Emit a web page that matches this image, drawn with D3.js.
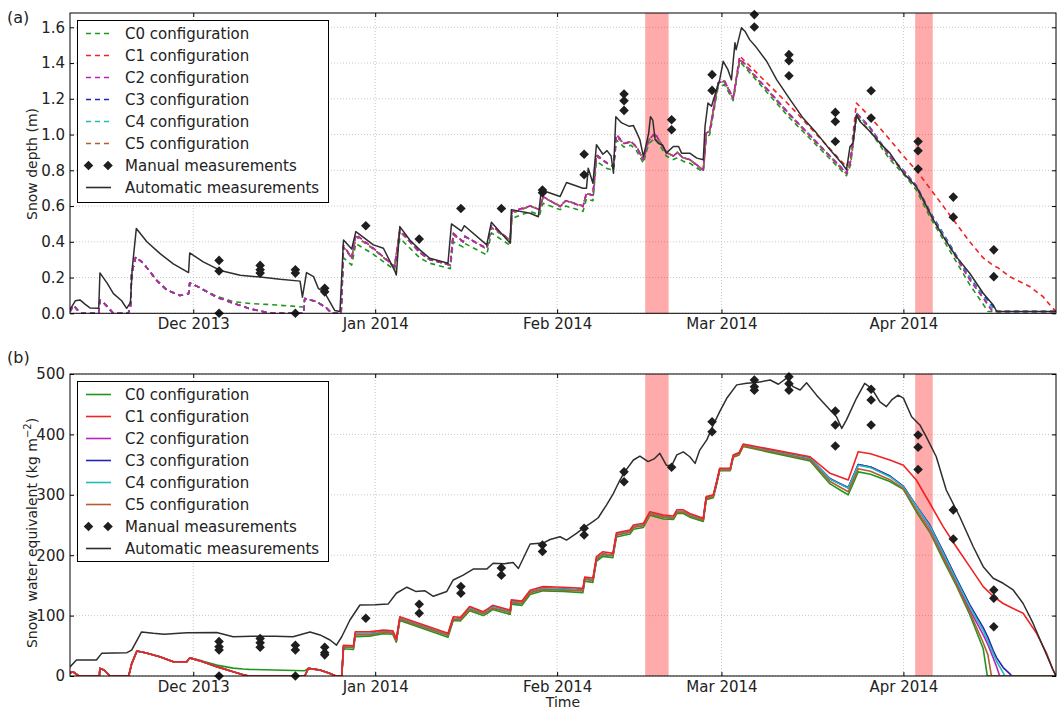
<!DOCTYPE html>
<html><head><meta charset="utf-8">
<script src="https://cdn.jsdelivr.net/npm/d3@7"></script>
<style>body{margin:0;background:#fff}svg{font-family:"DejaVu Sans",sans-serif;background:#fff}</style>
</head><body><svg id="c" width="1057" height="713"></svg>
<script>
// ---------- data ----------
// time is given as days since 2013-11-10
const startDate = new Date(2013, 10, 10);
const lastDay = 168;
const monthTicks = ["2013-12-01", "2014-01-01", "2014-02-01", "2014-03-01", "2014-04-01"];
const depthTicks = [0, 0.2, 0.4, 0.6, 0.8, 1.0, 1.2, 1.4, 1.6];
const sweTicks = [0, 100, 200, 300, 400, 500];
const configNames = ["C0 configuration", "C1 configuration", "C2 configuration", "C3 configuration", "C4 configuration", "C5 configuration"];
const configColors = ["#1f961f", "#f02222", "#bb22bb", "#2424b4", "#22bcbc", "#b0602e"];
const shadedPeriods = [[98, 102], [144, 147]];

const autoDepth = [[0,0.02],[0.9,0.07],[1.7,0.075],[2.6,0.05],[3.4,0.03],[4.9,0.028],[5.1,0.226],[6.3,0.17],[7.4,0.11],[8.8,0.07],[9.65,0.028],[10.3,0.06],[10.6,0.25],[11.3,0.474],[13.1,0.4],[15.3,0.335],[17.6,0.277],[20.2,0.228],[20.4,0.338],[22.7,0.288],[25.6,0.24],[29,0.213],[32.4,0.203],[35.8,0.19],[39.2,0.18],[39.6,0.09],[40.3,0.228],[41.5,0.205],[42.3,0.14],[43.4,0.115],[44.3,0.062],[45.1,0.016],[46,0.01],[46.6,0.41],[48,0.36],[48.7,0.457],[51.7,0.383],[53.4,0.364],[55.4,0.233],[55.6,0.215],[56.2,0.485],[57.9,0.41],[59.6,0.355],[61.3,0.308],[64.4,0.28],[65,0.5],[66.7,0.46],[67.2,0.49],[71,0.383],[71.8,0.51],[75,0.392],[75.2,0.58],[78.4,0.56],[79.8,0.54],[80.3,0.69],[83.5,0.653],[84.6,0.732],[87.4,0.7],[88,0.7],[88.3,0.812],[89.1,0.728],[89.7,0.943],[90.8,0.89],[91.5,0.91],[92.2,0.88],[92.6,0.784],[93,1.1],[94,1.065],[95.3,1.046],[96,1.05],[96.6,1.008],[97.1,0.971],[97.7,0.877],[98.1,0.933],[98.6,1.008],[98.9,1.1],[99.3,1.08],[99.7,0.971],[100.3,0.95],[101,0.94],[101.6,0.896],[102.8,0.933],[103.7,0.933],[104.2,0.896],[105.6,0.896],[106.8,0.868],[107.9,0.859],[108.2,1.045],[108.7,1.176],[109.3,1.158],[110.7,1.307],[111.3,1.41],[112.1,1.363],[112.7,1.307],[113.3,1.513],[113.5,1.475],[114.4,1.597],[115,1.578],[115.8,1.531],[117,1.485],[118.7,1.41],[120.4,1.307],[122.7,1.195],[124.9,1.092],[127.2,1.008],[129.5,0.915],[131.5,0.84],[132.3,0.803],[132.9,0.933],[133.4,0.95],[134,1.111],[134.6,1.073],[136.3,1.017],[138,0.952],[139.7,0.896],[142,0.784],[144.2,0.709],[145.4,0.635],[147.1,0.523],[148.8,0.429],[151,0.317],[153.3,0.224],[155.6,0.112],[157.3,0.047],[157.9,0.01],[168,0.01]];

const manualDepth = [[25.4,0.296],[25.4,0.237],[25.4,0],[32.4,0.268],[32.4,0.244],[32.4,0.225],[38.4,0.244],[38.4,0.225],[38.4,0],[43.4,0.14],[43.4,0.12],[50.4,0.49],[59.5,0.415],[66.6,0.586],[73.5,0.586],[80.5,0.69],[80.5,0.675],[87.6,0.89],[87.6,0.775],[94.4,1.227],[94.4,1.189],[94.4,1.135],[102.5,1.083],[102.5,1.027],[109.4,1.335],[109.4,1.247],[116.6,1.671],[116.6,1.602],[122.5,1.447],[122.5,1.413],[122.5,1.329],[130.4,1.124],[130.4,1.073],[130.4,0.961],[136.5,1.245],[136.5,1.092],[144.5,0.961],[144.5,0.909],[144.5,0.807],[150.5,0.65],[150.5,0.538],[157.4,0.355],[157.4,0.205]];

const depthC0 = [[0,0.01],[0.6,0.045],[1.5,0.01],[2,0],[4.9,0],[5.1,0.074],[5.7,0.06],[7.4,0],[9.9,0],[10.3,0.03],[10.5,0.22],[11.2,0.315],[12.5,0.28],[14.8,0.183],[16.5,0.13],[18.7,0.1],[20.2,0.11],[20.4,0.17],[22,0.145],[25,0.095],[27.8,0.065],[30.7,0.055],[33.5,0.05],[35.8,0.045],[39.8,0.035],[40,0.083],[42,0.065],[43.7,0.03],[44.6,0],[46.2,0],[46.6,0.31],[48,0.27],[48.7,0.39],[51.7,0.33],[55.3,0.243],[56.2,0.42],[59.6,0.31],[61.3,0.28],[64.8,0.25],[65.3,0.4],[67,0.37],[67.3,0.39],[71,0.327],[71.8,0.45],[75,0.38],[75.3,0.53],[78.4,0.57],[80,0.55],[80.6,0.616],[83.5,0.58],[84.5,0.6],[87.4,0.57],[88,0.64],[89.1,0.63],[89.7,0.85],[91.5,0.81],[92.6,0.8],[93.1,0.97],[94.4,0.93],[95.6,0.94],[96.5,0.91],[97.7,0.84],[98.6,0.95],[99.7,0.98],[100.5,0.94],[101.6,0.88],[102.8,0.86],[103.5,0.87],[104.5,0.85],[105.6,0.84],[107.9,0.79],[108.4,0.98],[109,1.0],[110.4,1.26],[111.5,1.28],[113,1.19],[114.1,1.41],[122.7,1.09],[132.3,0.77],[133,0.83],[134,1.1],[136.3,1.02],[139.7,0.86],[142,0.78],[144.2,0.69],[146.5,0.54],[149.9,0.35],[153.3,0.16],[155.6,0.05],[156.4,0.01],[168,0.01]];
const depthC1 = [[0,0.01],[0.6,0.045],[1.5,0.01],[2,0],[4.9,0],[5.1,0.074],[5.7,0.06],[7.4,0],[9.9,0],[10.3,0.03],[10.5,0.22],[11.2,0.315],[12.5,0.28],[14.8,0.183],[16.5,0.13],[18.7,0.1],[20.2,0.11],[20.4,0.17],[22,0.145],[25,0.09],[27.8,0.057],[30.7,0.025],[33.5,0.005],[35,0],[39.8,0],[40,0.083],[42,0.065],[43.7,0.03],[44.6,0],[46.2,0],[46.6,0.38],[48,0.31],[48.7,0.44],[51.7,0.364],[55.3,0.261],[56.2,0.467],[59.6,0.34],[61.3,0.3],[64.8,0.27],[65.3,0.448],[67,0.4],[67.3,0.43],[71,0.364],[71.8,0.49],[75,0.41],[75.3,0.57],[78.4,0.6],[80,0.58],[80.6,0.653],[83.5,0.597],[84.5,0.63],[87.4,0.597],[88,0.672],[89.1,0.66],[89.7,0.887],[91.5,0.84],[92.6,0.821],[93.1,1.0],[94.4,0.95],[95.6,0.96],[96.5,0.933],[97.7,0.859],[98.6,0.97],[99.7,1.008],[100.5,0.96],[101.6,0.9],[102.8,0.88],[103.5,0.9],[104.5,0.868],[105.6,0.86],[107.9,0.803],[108.4,1.008],[109,1.02],[110.4,1.289],[111.5,1.3],[113,1.204],[114.1,1.44],[122.7,1.16],[132.3,0.82],[133,0.88],[134,1.176],[136.3,1.1],[139.7,0.971],[142,0.88],[144.2,0.8],[146.5,0.7],[149.9,0.55],[153.3,0.4],[155.6,0.31],[157.2,0.27],[158.1,0.255],[160.1,0.205],[163.5,0.15],[165.8,0.093],[167.2,0.037],[168,0.01]];
const depthC2 = [[0,0.01],[0.6,0.045],[1.5,0.01],[2,0],[4.9,0],[5.1,0.074],[5.7,0.06],[7.4,0],[9.9,0],[10.3,0.03],[10.5,0.22],[11.2,0.315],[12.5,0.28],[14.8,0.183],[16.5,0.13],[18.7,0.1],[20.2,0.11],[20.4,0.17],[22,0.145],[25,0.09],[27.8,0.057],[30.7,0.025],[33.5,0.005],[35,0],[39.8,0],[40,0.083],[42,0.065],[43.7,0.03],[44.6,0],[46.2,0],[46.6,0.38],[48,0.31],[48.7,0.44],[51.7,0.364],[55.3,0.261],[56.2,0.467],[59.6,0.34],[61.3,0.3],[64.8,0.27],[65.3,0.448],[67,0.4],[67.3,0.43],[71,0.364],[71.8,0.49],[75,0.41],[75.3,0.57],[78.4,0.6],[80,0.58],[80.6,0.653],[83.5,0.597],[84.5,0.63],[87.4,0.597],[88,0.672],[89.1,0.66],[89.7,0.887],[91.5,0.84],[92.6,0.821],[93.1,1.0],[94.4,0.95],[95.6,0.96],[96.5,0.933],[97.7,0.859],[98.6,0.97],[99.7,1.008],[100.5,0.96],[101.6,0.9],[102.8,0.88],[103.5,0.9],[104.5,0.868],[105.6,0.86],[107.9,0.803],[108.4,1.008],[109,1.02],[110.4,1.289],[111.5,1.3],[113,1.204],[114.1,1.429],[122.7,1.11],[132.3,0.784],[133,0.85],[134,1.12],[136.3,1.04],[139.7,0.877],[142,0.8],[144.2,0.709],[146.5,0.56],[149.9,0.373],[153.3,0.187],[155.6,0.084],[156.4,0.05],[157.2,0.01],[168,0.01]];
const depthC3 = [[0,0.01],[0.6,0.045],[1.5,0.01],[2,0],[4.9,0],[5.1,0.074],[5.7,0.06],[7.4,0],[9.9,0],[10.3,0.03],[10.5,0.22],[11.2,0.315],[12.5,0.28],[14.8,0.183],[16.5,0.13],[18.7,0.1],[20.2,0.11],[20.4,0.17],[22,0.145],[25,0.09],[27.8,0.057],[30.7,0.025],[33.5,0.005],[35,0],[39.8,0],[40,0.083],[42,0.065],[43.7,0.03],[44.6,0],[46.2,0],[46.6,0.37],[48,0.31],[48.7,0.43],[51.7,0.36],[55.3,0.26],[56.2,0.46],[59.6,0.34],[61.3,0.3],[64.8,0.27],[65.3,0.44],[67,0.4],[67.3,0.43],[71,0.36],[71.8,0.48],[75,0.41],[75.3,0.56],[78.4,0.6],[80,0.58],[80.6,0.65],[83.5,0.6],[84.5,0.63],[87.4,0.6],[88,0.67],[89.1,0.66],[89.7,0.88],[91.5,0.84],[92.6,0.82],[93.1,0.99],[94.4,0.95],[95.6,0.96],[96.5,0.93],[97.7,0.86],[98.6,0.97],[99.7,1.0],[100.5,0.96],[101.6,0.9],[102.8,0.88],[103.5,0.9],[104.5,0.87],[105.6,0.86],[107.9,0.8],[108.4,1.0],[109,1.02],[110.4,1.28],[111.5,1.3],[113,1.2],[114.1,1.42],[122.7,1.11],[132.3,0.785],[133,0.85],[134,1.12],[136.3,1.04],[139.7,0.88],[142,0.8],[144.2,0.715],[146.5,0.57],[149.9,0.385],[153.3,0.2],[155.6,0.1],[156.4,0.075],[157.2,0.04],[158.1,0.01],[168,0.01]];
const depthC4 = [[0,0.01],[0.6,0.045],[1.5,0.01],[2,0],[4.9,0],[5.1,0.074],[5.7,0.06],[7.4,0],[9.9,0],[10.3,0.03],[10.5,0.22],[11.2,0.315],[12.5,0.28],[14.8,0.183],[16.5,0.13],[18.7,0.1],[20.2,0.11],[20.4,0.17],[22,0.145],[25,0.09],[27.8,0.057],[30.7,0.025],[33.5,0.005],[35,0],[39.8,0],[40,0.083],[42,0.065],[43.7,0.03],[44.6,0],[46.2,0],[46.6,0.37],[48,0.31],[48.7,0.43],[51.7,0.36],[55.3,0.26],[56.2,0.46],[59.6,0.34],[61.3,0.3],[64.8,0.27],[65.3,0.44],[67,0.4],[67.3,0.43],[71,0.36],[71.8,0.48],[75,0.41],[75.3,0.56],[78.4,0.6],[80,0.58],[80.6,0.65],[83.5,0.6],[84.5,0.63],[87.4,0.6],[88,0.67],[89.1,0.66],[89.7,0.88],[91.5,0.84],[92.6,0.82],[93.1,0.99],[94.4,0.95],[95.6,0.96],[96.5,0.93],[97.7,0.86],[98.6,0.97],[99.7,1.0],[100.5,0.96],[101.6,0.9],[102.8,0.88],[103.5,0.9],[104.5,0.87],[105.6,0.86],[107.9,0.8],[108.4,1.0],[109,1.02],[110.4,1.28],[111.5,1.3],[113,1.2],[114.1,1.42],[122.7,1.11],[132.3,0.785],[133,0.85],[134,1.12],[136.3,1.04],[139.7,0.88],[142,0.8],[144.2,0.712],[146.5,0.565],[149.9,0.38],[153.3,0.195],[155.6,0.095],[156.4,0.06],[157.2,0.03],[158.1,0.01],[168,0.01]];
const depthC5 = [[0,0.01],[0.6,0.045],[1.5,0.01],[2,0],[4.9,0],[5.1,0.074],[5.7,0.06],[7.4,0],[9.9,0],[10.3,0.03],[10.5,0.22],[11.2,0.315],[12.5,0.28],[14.8,0.183],[16.5,0.13],[18.7,0.1],[20.2,0.11],[20.4,0.17],[22,0.145],[25,0.09],[27.8,0.057],[30.7,0.025],[33.5,0.005],[35,0],[39.8,0],[40,0.083],[42,0.065],[43.7,0.03],[44.6,0],[46.2,0],[46.6,0.37],[48,0.31],[48.7,0.43],[51.7,0.36],[55.3,0.26],[56.2,0.46],[59.6,0.34],[61.3,0.3],[64.8,0.27],[65.3,0.44],[67,0.4],[67.3,0.43],[71,0.36],[71.8,0.48],[75,0.41],[75.3,0.56],[78.4,0.6],[80,0.58],[80.6,0.65],[83.5,0.6],[84.5,0.63],[87.4,0.6],[88,0.67],[89.1,0.66],[89.7,0.88],[91.5,0.84],[92.6,0.82],[93.1,0.99],[94.4,0.95],[95.6,0.96],[96.5,0.93],[97.7,0.86],[98.6,0.97],[99.7,1.0],[100.5,0.96],[101.6,0.9],[102.8,0.88],[103.5,0.9],[104.5,0.87],[105.6,0.86],[107.9,0.8],[108.4,1.0],[109,1.02],[110.4,1.28],[111.5,1.3],[113,1.2],[114.1,1.42],[122.7,1.105],[132.3,0.78],[133,0.845],[134,1.11],[136.3,1.035],[139.7,0.87],[142,0.795],[144.2,0.705],[146.5,0.555],[149.9,0.37],[153.3,0.19],[155.6,0.085],[156.4,0.045],[157.2,0.01],[168,0.01]];

const autoSwe = [[0,15],[1.1,26.5],[4.5,26.5],[5.4,37.5],[9.7,38.6],[10.5,43],[12.2,73],[14.2,70.6],[16,69],[19.9,71.8],[25,72],[27.8,65],[31,66],[35,66],[38,65],[40.9,73],[42.6,68],[44.3,59.6],[45.4,51],[46.3,65],[47.7,92.7],[49.4,117.5],[52,118],[54.2,119],[55.6,137],[57.4,147],[58.9,140],[60.5,141],[61.9,132],[64.2,140],[65.3,159],[67,167],[68.7,177],[71,177],[72.1,186.6],[74,186],[75.5,188],[76.4,178],[78.4,218.5],[80.6,220],[81.8,226],[83.5,230.6],[84.6,225],[86.3,236],[87.4,244.5],[89.1,255.5],[90,262],[91.4,283],[92.6,302.5],[93.7,324.5],[94.5,338],[96,357.6],[97.1,364],[98.5,355],[99.6,360],[100.5,368.7],[101.6,349],[102.5,348],[103.4,366],[104.5,371],[105.6,363],[106.5,352],[107.3,374],[108.5,391],[109.6,415.6],[110.7,437.6],[111.9,459.8],[113.6,482],[115.3,484.6],[117,486],[119.3,490],[120.7,483],[122.1,493],[123.2,479],[124.4,473.5],[125.5,485.6],[127.2,465],[129.5,440.4],[130.6,429.3],[131.5,410],[132.3,424],[134,459.8],[135.4,484.6],[136.6,476],[138,454],[139.1,446],[140,457],[141.1,465],[142,460],[143.4,429.3],[144.8,415.6],[145.9,396],[147.6,363],[149.3,308],[151.6,263.7],[153.9,214],[155.6,181],[157.3,161.8],[159,153.5],[160.7,142.4],[162.4,120],[164.1,87],[165.8,48.5],[167.5,10],[168,0]];

const manualSwe = [[25.4,57],[25.4,48.5],[25.4,43],[25.4,0],[32.4,62],[32.4,55],[32.4,47.5],[38.4,51],[38.4,43],[38.4,0],[43.4,47.5],[43.4,38.6],[43.4,35],[50.4,95.5],[59.5,118.7],[59.5,103.8],[66.6,148],[66.6,137],[73.5,179],[73.5,167],[80.5,217],[80.5,206],[87.6,244.5],[87.6,233.4],[94.4,338],[94.4,321.7],[102.5,345.5],[109.4,421],[109.4,404.5],[116.6,490],[116.6,479],[116.6,473],[122.5,495.5],[122.5,484],[122.5,473],[130.4,438.7],[130.4,415.6],[130.4,380.8],[136.5,474.7],[136.5,457],[136.5,415.6],[144.5,399],[144.5,378.6],[144.5,342],[150.5,275],[150.5,226.8],[157.4,142.4],[157.4,128.6],[157.4,81.6]];

const sweC0 = [[0,5],[0.5,7],[1.5,0],[5,0],[5.1,12.6],[5.8,10],[6.8,0],[10,0],[10.5,20],[11.4,41.4],[13,38],[15.3,32],[17.6,23.7],[19.9,23.7],[20.4,30],[22.5,25],[25,18],[27.8,13],[29.5,11.5],[30.5,11],[40,8.8],[40.6,12.6],[42.6,10],[44.3,4],[45.3,0],[46.3,0],[46.6,45],[48.3,44],[48.6,65],[51,66],[53.4,70],[55,69],[55.6,56],[56.2,92],[64.4,64],[65.3,92],[66.5,91],[68.1,108],[70.4,100],[71,103],[72,110],[75,102],[75.2,119],[77,117],[78.4,135],[80.6,141],[84,140],[87.4,138],[87.7,157],[89.1,155],[89.7,190],[90.8,198],[92.5,196],[93.1,230],[95.4,235],[96,243],[97.7,246],[98.8,266],[101.1,260],[102.8,259],[103.4,269],[104.5,269],[105.6,263],[107.9,256],[108.4,292],[109.6,295],[110.1,314],[110.7,340],[112.5,340],[113,362],[114,366],[114.7,380],[126.1,356],[129.5,318],[131.7,305],[132.6,300],[134.3,338],[136.4,334],[139.7,322],[142,309],[144.2,272],[146.5,238],[148.8,192],[151,150],[153.3,102],[155.6,45],[156.3,0],[168,0]];
const sweC1 = [[0,5],[0.5,7],[1.5,0],[5,0],[5.1,12.6],[5.8,10],[6.8,0],[10,0],[10.5,20],[11.4,41.4],[13,38],[15.3,32],[17.6,23.7],[19.9,23.7],[20.4,30],[22.5,24],[25,15.5],[27.8,7],[29.5,2],[30.5,0],[40,0],[40.6,12.6],[42.6,10],[44.3,4],[45.3,0],[46.3,0],[46.6,51],[48.3,50],[48.6,73],[51,73],[53.4,76],[55,75],[55.6,62],[56.2,98],[64.4,70.6],[65.3,98],[66.5,97],[68.1,115],[70.4,106.5],[71,110],[72,117],[75,109],[75.2,126],[77,124],[78.4,142],[80.6,148],[84,147],[87.4,145],[87.7,164],[89.1,162],[89.7,197.5],[90.8,205.8],[92.5,203],[93.1,237],[95.4,241.7],[96,250],[97.7,252.8],[98.8,272],[101.1,266.6],[102.8,265],[103.4,275],[104.5,275],[105.6,269],[107.9,261],[108.4,297],[109.6,300],[110.1,319],[110.7,344],[112.5,344],[113,366],[114,370],[114.7,384],[126.1,363],[129.5,335.6],[132.6,324.5],[134.3,371.4],[136.4,368],[139.7,357.6],[142,349],[144.2,324.5],[146.5,286],[148.8,247],[151,214],[153.3,181],[155.6,148],[157.3,132],[159,120],[160.1,114.7],[162.4,103.8],[164.7,70.6],[166.4,37.6],[167.5,10],[168,0]];
const sweC2 = [[0,5],[0.5,7],[1.5,0],[5,0],[5.1,12.6],[5.8,10],[6.8,0],[10,0],[10.5,20],[11.4,41.4],[13,38],[15.3,32],[17.6,23.7],[19.9,23.7],[20.4,30],[22.5,24],[25,15.5],[27.8,7],[29.5,2],[30.5,0],[40,0],[40.6,12.6],[42.6,10],[44.3,4],[45.3,0],[46.3,0],[46.6,49],[48.3,48],[48.6,70],[51,70],[53.4,73],[55,72],[55.6,59],[56.2,95],[64.4,68],[65.3,95],[66.5,94],[68.1,112],[70.4,104],[71,107],[72,114],[75,106],[75.2,123],[77,121],[78.4,139],[80.6,145],[84,144],[87.4,142],[87.7,161],[89.1,159],[89.7,194],[90.8,202],[92.5,200],[93.1,234],[95.4,239],[96,247],[97.7,250],[98.8,269],[101.1,264],[102.8,262],[103.4,272],[104.5,272],[105.6,266],[107.9,259],[108.4,295],[109.6,298],[110.1,317],[110.7,342],[112.5,342],[113,364],[114,368],[114.7,382],[126.1,361],[129.5,327],[132.6,311],[134.3,350],[136.4,346],[139.7,331],[142,314],[144.2,281],[146.5,246],[148.8,200],[151,156],[153.3,110],[155.6,68],[156.4,52],[157.3,30],[157.9,15],[158.4,0],[168,0]];
const sweC3 = [[0,5],[0.5,7],[1.5,0],[5,0],[5.1,12.6],[5.8,10],[6.8,0],[10,0],[10.5,20],[11.4,41.4],[13,38],[15.3,32],[17.6,23.7],[19.9,23.7],[20.4,30],[22.5,24],[25,15.5],[27.8,7],[29.5,2],[30.5,0],[40,0],[40.6,12.6],[42.6,10],[44.3,4],[45.3,0],[46.3,0],[46.6,49],[48.3,48],[48.6,70],[51,70],[53.4,73],[55,72],[55.6,59],[56.2,95],[64.4,68],[65.3,95],[66.5,94],[68.1,112],[70.4,104],[71,107],[72,114],[75,106],[75.2,123],[77,121],[78.4,139],[80.6,145],[84,144],[87.4,142],[87.7,161],[89.1,159],[89.7,194],[90.8,202],[92.5,200],[93.1,234],[95.4,239],[96,247],[97.7,250],[98.8,269],[101.1,264],[102.8,262],[103.4,272],[104.5,272],[105.6,266],[107.9,259],[108.4,295],[109.6,298],[110.1,317],[110.7,342],[112.5,342],[113,364],[114,368],[114.7,382],[126.1,360],[129.5,326],[132.6,312],[134.3,350],[136.4,346],[139.7,331],[142,314],[144.2,282],[146.5,250],[148.8,206],[151,162],[153.3,118],[155.6,80],[156.4,64],[157.3,42],[157.9,30],[159,14],[160.1,4],[160.5,0],[168,0]];
const sweC4 = [[0,5],[0.5,7],[1.5,0],[5,0],[5.1,12.6],[5.8,10],[6.8,0],[10,0],[10.5,20],[11.4,41.4],[13,38],[15.3,32],[17.6,23.7],[19.9,23.7],[20.4,30],[22.5,24],[25,15.5],[27.8,7],[29.5,2],[30.5,0],[40,0],[40.6,12.6],[42.6,10],[44.3,4],[45.3,0],[46.3,0],[46.6,49],[48.3,48],[48.6,70],[51,70],[53.4,73],[55,72],[55.6,59],[56.2,95],[64.4,68],[65.3,95],[66.5,94],[68.1,112],[70.4,104],[71,107],[72,114],[75,106],[75.2,123],[77,121],[78.4,139],[80.6,145],[84,144],[87.4,142],[87.7,161],[89.1,159],[89.7,194],[90.8,202],[92.5,200],[93.1,234],[95.4,239],[96,247],[97.7,250],[98.8,269],[101.1,264],[102.8,262],[103.4,272],[104.5,272],[105.6,266],[107.9,259],[108.4,295],[109.6,298],[110.1,317],[110.7,342],[112.5,342],[113,364],[114,368],[114.7,382],[126.1,360],[129.5,326],[132.6,311],[134.3,349],[136.4,345],[139.7,330],[142,313],[144.2,281],[146.5,248],[148.8,203],[151,159],[153.3,115],[155.6,75],[156.4,58],[157.3,37],[157.9,24],[159,5],[159.3,0],[168,0]];
const sweC5 = [[0,5],[0.5,7],[1.5,0],[5,0],[5.1,12.6],[5.8,10],[6.8,0],[10,0],[10.5,20],[11.4,41.4],[13,38],[15.3,32],[17.6,23.7],[19.9,23.7],[20.4,30],[22.5,24],[25,15.5],[27.8,7],[29.5,2],[30.5,0],[40,0],[40.6,12.6],[42.6,10],[44.3,4],[45.3,0],[46.3,0],[46.6,48],[48.3,47],[48.6,68],[51,68],[53.4,72],[55,71],[55.6,58],[56.2,94],[64.4,67],[65.3,94],[66.5,93],[68.1,110],[70.4,103],[71,105],[72,112],[75,105],[75.2,121],[77,120],[78.4,138],[80.6,143],[84,142],[87.4,141],[87.7,160],[89.1,158],[89.7,193],[90.8,201],[92.5,199],[93.1,233],[95.4,238],[96,246],[97.7,249],[98.8,268],[101.1,263],[102.8,261],[103.4,271],[104.5,271],[105.6,265],[107.9,258],[108.4,294],[109.6,297],[110.1,316],[110.7,341],[112.5,341],[113,363],[114,367],[114.7,381],[126.1,358],[129.5,322],[132.6,305],[134.3,343],[136.4,339],[139.7,325],[142,310],[144.2,275],[146.5,240],[148.8,196],[151,152],[153.3,106],[155.6,55],[156.4,35],[157,0],[168,0]];

// ---------- drawing ----------
const svg = d3.select("#c");
const FONT = "DejaVu Sans";
const dayToDate = d => new Date(startDate.getTime() + d * 864e5);
const parseDay = d3.timeParse("%Y-%m-%d");
const months = monthTicks.map(parseDay);
const PL = 70, PR = 1056;
const x = d3.scaleTime().domain([startDate, dayToDate(lastDay)]).range([PL, PR]);

function drawPanel(cfg) {
  const y = d3.scaleLinear().domain(cfg.yDomain).range([cfg.bottom, cfg.top]);
  const g = svg.append("g");
  const clipId = "clip" + cfg.id;
  svg.append("clipPath").attr("id", clipId).append("rect")
    .attr("x", PL).attr("y", cfg.top).attr("width", PR - PL).attr("height", cfg.bottom - cfg.top);

  // grid
  g.append("g").selectAll("line").data(months).join("line")
    .attr("x1", d => x(d)).attr("x2", d => x(d)).attr("y1", cfg.top).attr("y2", cfg.bottom)
    .attr("stroke", "#b9b9b9").attr("stroke-width", 0.8).attr("stroke-dasharray", "1,2");
  g.append("g").selectAll("line").data(cfg.yTicks).join("line")
    .attr("x1", PL).attr("x2", PR).attr("y1", d => y(d)).attr("y2", d => y(d))
    .attr("stroke", "#b9b9b9").attr("stroke-width", 0.8).attr("stroke-dasharray", "1,2");

  // shaded periods
  g.append("g").selectAll("rect").data(shadedPeriods).join("rect")
    .attr("x", d => x(dayToDate(d[0]))).attr("width", d => x(dayToDate(d[1])) - x(dayToDate(d[0])))
    .attr("y", cfg.top).attr("height", cfg.bottom - cfg.top)
    .attr("fill", "#ff0000").attr("fill-opacity", 0.33);

  const line = d3.line().x(d => x(dayToDate(d[0]))).y(d => y(d[1]));
  const lg = g.append("g").attr("clip-path", `url(#${clipId})`);
  cfg.order.forEach(i => {
    lg.append("path").attr("d", line(cfg.series[i])).attr("fill", "none")
      .attr("stroke", configColors[i]).attr("stroke-width", 1.6)
      .attr("stroke-dasharray", cfg.dashed ? "5,4" : null).attr("stroke-linejoin", "round");
  });
  lg.append("path").attr("d", line(cfg.auto)).attr("fill", "none")
    .attr("stroke", "#2e2e2e").attr("stroke-width", 1.5).attr("stroke-linejoin", "round");
  const diamond = d3.symbol(d3.symbolSquare, 46)();
  g.append("g").selectAll("path").data(cfg.manual).join("path")
    .attr("d", diamond)
    .attr("transform", d => `translate(${x(dayToDate(d[0]))},${y(d[1])}) rotate(45)`)
    .attr("fill", "#1e1e1e");

  // axes
  const styleAxis = a => {
    a.select(".domain").remove();
    a.selectAll("line").attr("stroke", "#000");
    a.selectAll("text").attr("font-family", FONT).attr("font-size", 15).attr("fill", "#222");
  };
  g.append("g").attr("transform", `translate(0,${cfg.bottom})`)
    .call(d3.axisBottom(x).tickValues(months).tickFormat(d3.timeFormat("%b %Y")).tickSizeInner(-4).tickSizeOuter(0).tickPadding(5))
    .call(styleAxis);
  g.append("g").attr("transform", `translate(0,${cfg.top})`)
    .call(d3.axisTop(x).tickValues(months).tickFormat("").tickSizeInner(-4).tickSizeOuter(0))
    .call(styleAxis);
  g.append("g").attr("transform", `translate(${PL},0)`)
    .call(d3.axisLeft(y).tickValues(cfg.yTicks).tickFormat(cfg.fmt).tickSizeInner(-4).tickSizeOuter(0).tickPadding(5))
    .call(styleAxis);
  g.append("g").attr("transform", `translate(${PR},0)`)
    .call(d3.axisRight(y).tickValues(cfg.yTicks).tickFormat("").tickSizeInner(-4).tickSizeOuter(0))
    .call(styleAxis);

  // frame
  g.append("rect").attr("x", PL).attr("y", cfg.top).attr("width", PR - PL).attr("height", cfg.bottom - cfg.top)
    .attr("fill", "none").attr("stroke", "#000").attr("stroke-width", 1);

  // legend
  const L = g.append("g");
  L.append("rect").attr("x", 77.5).attr("y", cfg.legendTop + 0.5).attr("width", 251).attr("height", cfg.legendH)
    .attr("fill", "#fff").attr("stroke", "#000").attr("stroke-width", 1);
  const rowY = i => cfg.legendTop + 13.5 + i * 22;
  configNames.forEach((n, i) => {
    L.append("line").attr("x1", 86).attr("x2", 111).attr("y1", rowY(i)).attr("y2", rowY(i))
      .attr("stroke", configColors[i]).attr("stroke-width", 1.6)
      .attr("stroke-dasharray", cfg.dashed ? "5,4" : null);
  });
  [88.5, 108].forEach(px => {
    L.append("path").attr("d", diamond).attr("transform", `translate(${px},${rowY(6)}) rotate(45)`).attr("fill", "#1e1e1e");
  });
  L.append("line").attr("x1", 86).attr("x2", 111).attr("y1", rowY(7)).attr("y2", rowY(7))
    .attr("stroke", "#2e2e2e").attr("stroke-width", 1.6);
  const labels = configNames.concat(["Manual measurements", "Automatic measurements"]);
  labels.forEach((t, i) => {
    L.append("text").attr("x", 125).attr("y", rowY(i)).attr("dy", "0.36em")
      .attr("font-family", FONT).attr("font-size", 15).attr("fill", "#222").text(t);
  });

  // panel tag
  svg.append("text").attr("x", 7).attr("y", cfg.tagY).attr("font-family", FONT).attr("font-size", 16)
    .attr("fill", "#222").text(cfg.tag);
  return y;
}

drawPanel({
  id: "a", top: 13, bottom: 313.3, yDomain: [0, 1.68], yTicks: depthTicks, fmt: d3.format(".1f"),
  series: [depthC0, depthC1, depthC2, depthC3, depthC4, depthC5], order: [0, 1, 3, 4, 5, 2],
  auto: autoDepth, manual: manualDepth, dashed: true, legendTop: 20, legendH: 182, tag: "(a)", tagY: 23
});
drawPanel({
  id: "b", top: 374, bottom: 676, yDomain: [0, 500], yTicks: sweTicks, fmt: d3.format("d"),
  series: [sweC0, sweC1, sweC2, sweC3, sweC4, sweC5], order: [0, 2, 3, 4, 5, 1],
  auto: autoSwe, manual: manualSwe, dashed: false, legendTop: 381, legendH: 180, tag: "(b)", tagY: 363
});

// axis titles
svg.append("text").attr("transform", "translate(37,164) rotate(-90)").attr("text-anchor", "middle")
  .attr("font-family", FONT).attr("font-size", 14).attr("fill", "#222").text("Snow depth (m)");
const sweLabel = svg.append("text").attr("transform", "translate(37,533) rotate(-90)").attr("text-anchor", "middle")
  .attr("font-family", FONT).attr("font-size", 14).attr("fill", "#222").style("white-space", "pre");
sweLabel.append("tspan").text("Snow  water equivalent (kg m");
sweLabel.append("tspan").attr("font-size", 10).attr("dy", "-0.6em").text("\u22122");
sweLabel.append("tspan").attr("dy", "0.45em").text(")");
svg.append("text").attr("x", 563).attr("y", 707).attr("text-anchor", "middle")
  .attr("font-family", FONT).attr("font-size", 14).attr("fill", "#222").text("Time");
</script></body></html>
